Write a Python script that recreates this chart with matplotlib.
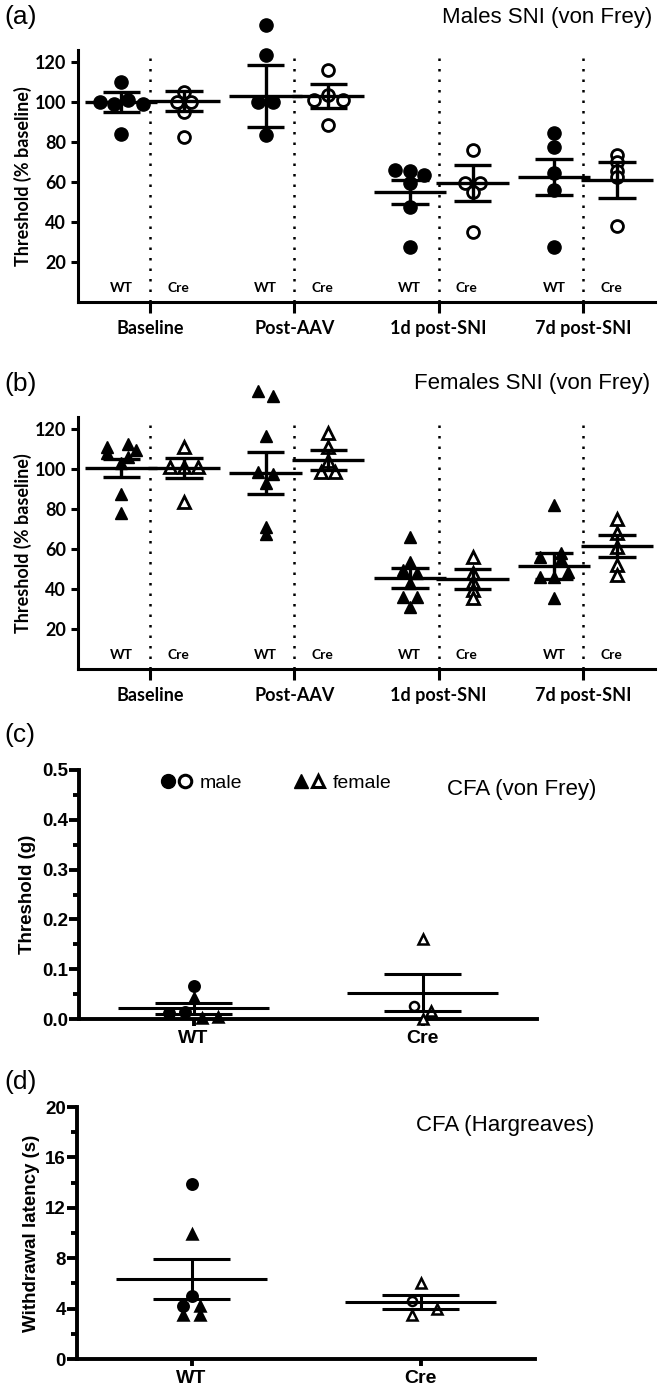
import matplotlib
matplotlib.use('Agg')
import matplotlib.pyplot as plt
from matplotlib.lines import Line2D
from matplotlib.legend_handler import HandlerTuple
import numpy as np

# ---- data ----
timepoints = ["Baseline", "Post-AAV", "1d post-SNI", "7d post-SNI"]

# (a) males SNI, % baseline
male_wt = [
    [110, 100, 99, 101, 99, 84],
    [138.5, 123.5, 100, 100, 83.5],
    [66, 65.5, 63.5, 59.5, 47.5, 27.5],
    [84.5, 77.5, 64.5, 56, 27.5],
]
male_cre = [
    [105, 100, 100, 95, 82.5],
    [116, 101, 103.5, 101, 88.5],
    [76, 59.5, 59.5, 55, 35],
    [73.5, 70, 65.5, 62.5, 38],
]
male_wt_mean = [100, 103, 55, 62.5]
male_wt_sem = [4.8, 15.3, 6, 9.2]
male_cre_mean = [100.5, 103, 59.5, 61]
male_cre_sem = [4.8, 6, 9, 9]

# (b) females SNI, % baseline
female_wt = [
    [111, 108, 112.5, 106, 109.5, 103, 87.5, 78],
    [139, 136.5, 116.5, 98.5, 97.5, 93, 71, 67.5],
    [66, 53.5, 49.5, 48, 43, 36, 36, 31],
    [82, 56, 58, 55, 46, 46, 48.5, 35.5],
]
female_cre = [
    [111, 101, 101, 101, 83.5],
    [118, 111, 104, 98.5, 98.5],
    [56, 48, 43.5, 39.5, 35.5],
    [75, 68, 61, 52, 47],
]
female_wt_mean = [100.5, 98, 45.5, 51.5]
female_wt_sem = [4.5, 10.5, 5, 6.5]
female_cre_mean = [100.5, 104.5, 45, 61.5]
female_cre_sem = [5, 5, 4.8, 5.3]

# (c) CFA von Frey threshold (g)
cfa_vf_wt_male = [0.067, 0.012, 0.015]
cfa_vf_wt_female = [0.042, 0.002, 0.004]
cfa_vf_cre_male = [0.026]
cfa_vf_cre_female = [0.16, 0.016, 0.0]
cfa_vf_mean = [0.022, 0.053]
cfa_vf_sem = [0.011, 0.037]

# (d) CFA Hargreaves withdrawal latency (s)
cfa_hg_wt_male = [13.9, 5.0, 4.2]
cfa_hg_wt_female = [9.9, 3.5, 3.5, 4.2]
cfa_hg_cre_male = [4.6]
cfa_hg_cre_female = [6.0, 3.5, 4.0]
cfa_hg_mean = [6.35, 4.55]
cfa_hg_sem = [1.55, 0.55]

genotypes = ["WT", "Cre"]

# ---- fonts ----
CAL = ["Lato", "DejaVu Sans"]
NAR = ["Liberation Sans Narrow", "Liberation Sans", "DejaVu Sans"]
ARI = ["Liberation Sans", "DejaVu Sans"]

W, H = 661, 1387
fig = plt.figure(figsize=(W / 100, H / 100), dpi=100)


def rect(left, right, top, bottom):
    return [left / W, 1 - bottom / H, (right - left) / W, (bottom - top) / H]


def style_axes(ax, lw=2.2):
    for s in ["top", "right"]:
        ax.spines[s].set_visible(False)
    for s in ["left", "bottom"]:
        ax.spines[s].set_linewidth(lw)
    ax.tick_params(width=lw, length=5, color="black")


def jitter_x(vals, center, spread):
    # spread points that share a value side by side, like a scatter dot plot
    xs = []
    vals = list(vals)
    for i, v in enumerate(vals):
        same = [j for j, w in enumerate(vals) if abs(w - v) < spread[1]]
        k = same.index(i)
        n = len(same)
        xs.append(center + (k - (n - 1) / 2) * spread[0])
    return xs


def mean_sem(ax, x, m, s, half_mean, half_cap, lw):
    ax.hlines(m, x - half_mean, x + half_mean, color="black", lw=lw, zorder=4)
    ax.hlines([m - s, m + s], x - half_cap, x + half_cap, color="black", lw=lw, zorder=4)
    ax.vlines(x, m - s, m + s, color="black", lw=lw, zorder=4)


def sni_panel(ax, wt, cre, wtm, wts, crem, cres, marker, ms):
    style_axes(ax)
    ax.set_xlim(-0.5, 3.5)
    ax.set_ylim(0, 126)
    for i in range(len(timepoints)):
        xw, xc = i - 0.2, i + 0.235
        ax.plot(jitter_x(wt[i], xw, (0.1, 3.0)), wt[i], ls="none", marker=marker,
                ms=ms, mfc="black", mec="black", zorder=3, clip_on=False)
        ax.plot(jitter_x(cre[i], xc, (0.1, 3.0)), cre[i], ls="none", marker=marker,
                ms=ms * 0.9, mfc="white", mec="black", mew=2.0, zorder=3, clip_on=False)
        mean_sem(ax, xw, wtm[i], wts[i], 0.25, 0.13, 2.4)
        mean_sem(ax, xc, crem[i], cres[i], 0.25, 0.13, 2.4)
        ax.axvline(i, ymin=0, ymax=0.98, color="black", lw=1.8, ls=(0, (1, 3.2)), zorder=1)
        ax.text(xw, 7, "WT", ha="center", va="center", fontsize=10, fontweight="bold", family=CAL)
        ax.text(xc - 0.04, 7, "Cre", ha="center", va="center", fontsize=10, fontweight="bold", family=CAL)
    ax.set_yticks([20, 40, 60, 80, 100, 120])
    ax.set_xticks(range(len(timepoints)))
    ax.set_xticklabels(timepoints, fontsize=13, fontweight="bold", family=CAL)
    for lab in ax.get_yticklabels():
        lab.set_fontsize(13)
        lab.set_fontweight("bold")
        lab.set_family(CAL)
    ax.tick_params(axis="x", length=8, pad=5)
    ax.set_ylabel("Threshold (% baseline)", fontsize=13, fontweight="bold", family=CAL, labelpad=2)


# ---- (a) ----
ax_a = fig.add_axes(rect(78, 655, 50, 302))
sni_panel(ax_a, male_wt, male_cre, male_wt_mean, male_wt_sem, male_cre_mean, male_cre_sem, "o", 9.5)
fig.text(4 / W, 1 - 17 / H, "(a)", fontsize=19, family=ARI, va="center", ha="left")
fig.text(652 / W, 1 - 17 / H, "Males SNI (von Frey)", fontsize=16, family=ARI, va="center", ha="right")

# ---- (b) ----
ax_b = fig.add_axes(rect(78, 655, 417, 669))
sni_panel(ax_b, female_wt, female_cre, female_wt_mean, female_wt_sem, female_cre_mean, female_cre_sem, "^", 9.0)
fig.text(4 / W, 1 - 384 / H, "(b)", fontsize=19, family=ARI, va="center", ha="left")
fig.text(650 / W, 1 - 384 / H, "Females SNI (von Frey)", fontsize=16, family=ARI, va="center", ha="right")


def cfa_panel(ax, wt_m, wt_f, cre_m, cre_f, means, sems, ylim, major, minor, ylabel, fmt):
    style_axes(ax, lw=2.8)
    ax.set_xlim(-0.5, 1.5)
    ax.set_ylim(*ylim)
    groups = [(wt_m, wt_f), (cre_m, cre_f)]
    for i, (m, f) in enumerate(groups):
        allv = list(m) + list(f)
        xs = jitter_x(allv, i, (0.07, ylim[1] * 0.03))
        fill = "black" if i == 0 else "white"
        ax.plot(xs[:len(m)], m, ls="none", marker="o", ms=7.5 if i == 0 else 6.5,
                mfc=fill, mec="black", mew=1.8, zorder=3, clip_on=False)
        ax.plot(xs[len(m):], f, ls="none", marker="^", ms=7.5 if i == 0 else 6.5,
                mfc=fill, mec="black", mew=1.8, zorder=3, clip_on=False)
        mean_sem(ax, i, means[i], sems[i], 0.33, 0.17, 2.2)
    ax.set_yticks(major)
    ax.set_yticks(minor, minor=True)
    ax.set_yticklabels([fmt(v) for v in major], fontsize=13.5, fontweight="bold", family=NAR)
    ax.tick_params(axis="y", which="major", length=7, width=2.8, pad=1)
    ax.tick_params(axis="y", which="minor", length=4, width=2.8)
    ax.set_xticks([0, 1])
    ax.set_xticklabels(genotypes, fontsize=14, fontweight="bold", family=ARI)
    ax.tick_params(axis="x", length=5, width=2.8, pad=3)
    ax.set_ylabel(ylabel, fontsize=13.5, fontweight="bold", family=NAR, labelpad=4)


# ---- (c) ----
ax_c = fig.add_axes(rect(79, 537, 770, 1019))
cfa_panel(ax_c, cfa_vf_wt_male, cfa_vf_wt_female, cfa_vf_cre_male, cfa_vf_cre_female,
          cfa_vf_mean, cfa_vf_sem, (0, 0.5), np.arange(0, 0.51, 0.1),
          np.arange(0.05, 0.5, 0.1), "Threshold (g)", lambda v: f"{v:.1f}")
fig.text(4 / W, 1 - 735 / H, "(c)", fontsize=19, family=ARI, va="center", ha="left")
fig.text(596 / W, 1 - 789 / H, "CFA (von Frey)", fontsize=16, family=ARI, va="center", ha="right")
h_male = (Line2D([], [], ls="none", marker="o", ms=10, mfc="black", mec="black"),
          Line2D([], [], ls="none", marker="o", ms=9, mfc="white", mec="black", mew=2.2))
h_fem = (Line2D([], [], ls="none", marker="^", ms=10, mfc="black", mec="black"),
         Line2D([], [], ls="none", marker="^", ms=9, mfc="white", mec="black", mew=2.2))
leg = ax_c.legend([h_male, h_fem], ["male", "female"], handler_map={tuple: HandlerTuple(ndivide=None, pad=0.05)},
                  ncol=2, frameon=False, loc="center", bbox_to_anchor=(0.43, 0.948),
                  handlelength=1.7, handletextpad=0.35, columnspacing=2.6,
                  prop={"family": ARI, "size": 14})

# ---- (d) ----
ax_d = fig.add_axes(rect(77, 535, 1107, 1359))
cfa_panel(ax_d, cfa_hg_wt_male, cfa_hg_wt_female, cfa_hg_cre_male, cfa_hg_cre_female,
          cfa_hg_mean, cfa_hg_sem, (0, 20), np.arange(0, 21, 4),
          np.arange(2, 20, 4), "Withdrawal latency (s)", lambda v: f"{v:.0f}")
fig.text(4 / W, 1 - 1082 / H, "(d)", fontsize=19, family=ARI, va="center", ha="left")
fig.text(594 / W, 1 - 1125 / H, "CFA (Hargreaves)", fontsize=16, family=ARI, va="center", ha="right")

fig.savefig("out.png", dpi=100)
